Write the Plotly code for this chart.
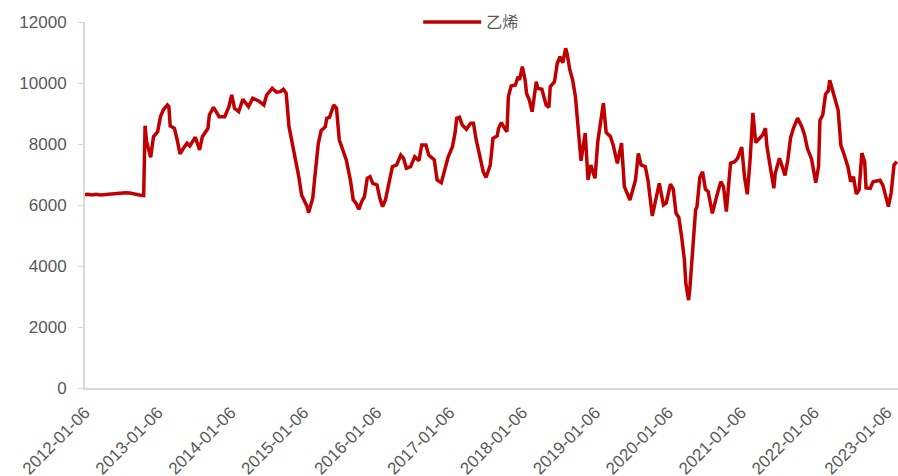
import numpy as np
import pandas as pd
import plotly.graph_objects as go

series_name = "乙烯"
start_date = "2012-01-06"

# week index since 2012-01-06 (weekly data)
weeks = [0, 2, 5, 8, 11, 14, 18, 21, 25, 29, 32, 36, 39, 42, 43, 44, 47, 49, 52, 54,
         56, 59, 60, 61, 64, 66, 68, 70, 73, 75, 79, 82, 84, 88, 89, 92, 96, 100, 103, 105,
         107, 110, 113, 117, 120, 124, 128, 130, 134, 137, 140, 142, 144, 146, 148, 150, 153, 155, 157, 159,
         160, 163, 165, 167, 169, 172, 173, 175, 178, 180, 182, 185, 187, 190, 192, 194, 196, 198, 200, 202,
         204, 206, 209, 211, 213, 215, 218, 220, 223, 226, 228, 230, 233, 236, 239, 241, 244, 246, 250, 252,
         255, 258, 260, 263, 265, 266, 268, 270, 273, 276, 278, 280, 283, 285, 287, 290, 292, 295, 296, 298,
         301, 302, 303, 305, 308, 310, 311, 313, 315, 316, 318, 320, 323, 324, 327, 330, 332, 333, 336, 338,
         340, 342, 344, 345, 347, 349, 351, 353, 355, 358, 360, 362, 365, 367, 371, 373, 376, 378, 381, 384,
         386, 390, 392, 394, 396, 398, 401, 403, 406, 408, 411, 414, 416, 419, 421, 423, 425, 427, 429, 430,
         432, 433, 435, 437, 438, 440, 442, 444, 446, 449, 452, 455, 457, 459, 462, 465, 467, 470, 472, 474,
         476, 478, 480, 483, 485, 487, 488, 490, 493, 494, 497, 499, 501, 503, 505, 507, 510, 513, 515, 517,
         520, 523, 525, 526, 528, 530, 532, 533, 535, 537, 539, 541, 543, 546, 548, 550, 552, 554, 556, 558,
         559, 562, 564, 569, 571, 575, 577, 579, 581]

values = [6340, 6350, 6330, 6350, 6330, 6340, 6380, 6390, 6380, 6400, 6390, 6370, 6330, 6310, 8600, 8100, 7565, 8240, 8405, 8896,
          9116, 9280, 9225, 8591, 8515, 8132, 7673, 7827, 8024, 7935, 8220, 7804, 8240, 8515, 8952, 9204, 8896, 8896, 9225, 9608,
          9171, 9060, 9467, 9225, 9499, 9421, 9280, 9608, 9827, 9696, 9716, 9795, 9663, 8568, 8132, 7696, 6929, 6329, 6164, 5945,
          5748, 6220, 7148, 8024, 8437, 8568, 8843, 8876, 9280, 9171, 8132, 7748, 7476, 6800, 6164, 6056, 5860, 6109, 6273, 6876,
          6929, 6711, 6656, 6220, 5945, 6164, 6876, 7257, 7312, 7640, 7532, 7204, 7257, 7585, 7454, 7968, 7968, 7640, 7476, 6820,
          6733, 7312, 7585, 7913, 8405, 8843, 8876, 8624, 8482, 8679, 8679, 8132, 7476, 7093, 6900, 7300, 8187, 8263, 8515, 8700,
          8460, 8405, 9552, 9903, 9935, 10208, 10100, 10536, 10100, 9663, 9444, 9060, 10044, 9827, 9795, 9280, 9204, 9880, 10044, 10645,
          10864, 10667, 11139, 10975, 10427, 10100, 9552, 8568, 7450, 8360, 6820, 7312, 6876, 8080, 9335, 8380, 8250, 7968, 7368, 8030,
          6600, 6164, 6492, 6820, 7690, 7312, 7257, 6790, 5640, 6050, 6711, 6000, 6070, 6685, 6520, 5728, 5590, 4962, 4197, 3433,
          2880, 3322, 4633, 5837, 5945, 6900, 7093, 6520, 6437, 5728, 6273, 6765, 6601, 5781, 7368, 7421, 7532, 7900, 6929, 6350,
          7476, 9020, 8050, 8210, 8296, 8515, 7940, 7368, 6548, 7039, 7532, 7257, 6970, 7476, 8210, 8515, 8850, 8568, 8296, 7860,
          7500, 6733, 7257, 8780, 8952, 9630, 9748, 10090, 9716, 9444, 9116, 7950, 7696, 7257, 6765, 6929, 6360, 6492, 7700, 7421,
          6560, 6548, 6765, 6810, 6650, 5945, 6410, 7312, 7421]

tick_labels = ["2012-01-06", "2013-01-06", "2014-01-06", "2015-01-06", "2016-01-06", "2017-01-06",
               "2018-01-06", "2019-01-06", "2020-01-06", "2021-01-06", "2022-01-06", "2023-01-06"]
y_ticks = [0, 2000, 4000, 6000, 8000, 10000, 12000]

dates = pd.Timestamp(start_date) + pd.to_timedelta(np.array(weeks) * 7, unit="D")

font_family = "Liberation Sans, Arial, Noto Sans CJK SC, sans-serif"

fig = go.Figure()
fig.add_trace(go.Scatter(
    x=dates, y=values, mode="lines", name=series_name,
    line=dict(color="#C00000", width=3.5),
))

fig.update_layout(
    width=898, height=476,
    margin=dict(l=85, r=0, t=22, b=88, autoexpand=False),
    paper_bgcolor="white", plot_bgcolor="white",
    font=dict(family=font_family, size=17, color="#595959"),
    showlegend=True,
    legend=dict(orientation="h", x=0.475, xanchor="center", y=1.0, yanchor="middle",
                itemwidth=58,
                font=dict(size=16, color="#595959"), bgcolor="rgba(0,0,0,0)"),
    xaxis=dict(
        type="date", automargin=False,
        range=["2012-01-06", "2023-03-02"],
        tickvals=tick_labels, ticktext=tick_labels,
        tickangle=-45, showgrid=False, zeroline=False,
        showline=True, linecolor="#d9d9d9", linewidth=2,
        ticks="", ticklabelstandoff=6,
        tickfont=dict(size=17, color="#595959"),
    ),
    yaxis=dict(
        automargin=False,
        range=[0, 12000], tickvals=y_ticks, ticktext=[str(v) for v in y_ticks],
        showgrid=False, zeroline=False,
        showline=True, linecolor="#d9d9d9", linewidth=2,
        ticks="outside", ticklen=5, tickcolor="#d9d9d9", tickwidth=1,
        ticklabelstandoff=8,
        tickfont=dict(size=17, color="#595959"),
    ),
)

fig.write_html("out.html", config={"displayModeBar": False},
               post_script="document.body.style.margin='0';document.body.style.overflow='hidden';")
